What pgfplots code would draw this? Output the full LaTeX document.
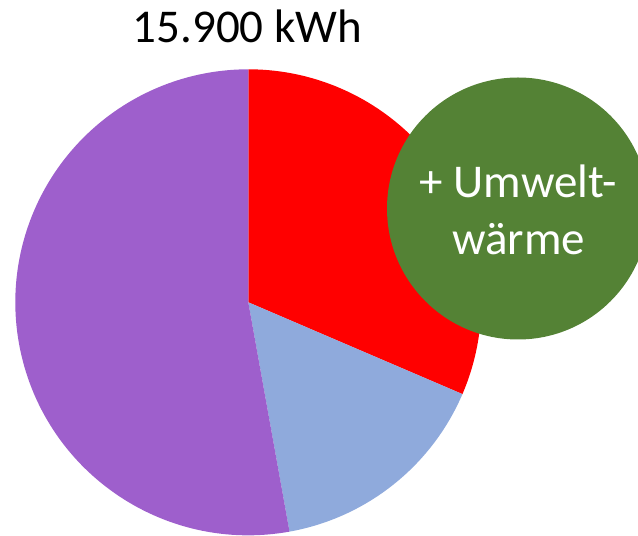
\documentclass[border=0pt]{standalone}
\usepackage{pgfplots}
\usepackage{pgfplotstable}
\pgfplotsset{compat=1.18}
\usepackage{fontspec}
\setmainfont{Carlito}
\definecolor{pRed}{HTML}{FF0000}
\definecolor{pBlue}{HTML}{8FAADC}
\definecolor{pPurple}{HTML}{9E5FCC}
\definecolor{pGreen}{HTML}{548235}
\pgfplotstableread{
part value
A 5000
B 2500
C 8400
}\piedata
\begin{document}
\begin{tikzpicture}
\pgfplotstablegetelem{0}{value}\of\piedata \edef\va{\pgfplotsretval}
\pgfplotstablegetelem{1}{value}\of\piedata \edef\vb{\pgfplotsretval}
\pgfplotstablegetelem{2}{value}\of\piedata \edef\vc{\pgfplotsretval}
\pgfmathsetmacro\tot{(\va+\vb+\vc)/100}
\pgfmathsetmacro\aA{90-3.6*((\va/100)/(\tot/100))}
\pgfmathsetmacro\aB{\aA-3.6*((\vb/100)/(\tot/100))}
\pgfmathsetmacro\aC{\aB-3.6*((\vc/100)/(\tot/100))}
\begin{axis}[
  x=1pt, y=1pt, scale only axis,
  xmin=0, xmax=638, ymin=0, ymax=536,
  hide axis, clip=false,
]
\fill[pRed] (axis cs:248.3,233.7) -- ++(90:233pt) arc[start angle=90, end angle=\aA, radius=233pt] -- cycle;
\fill[pBlue] (axis cs:248.3,233.7) -- ++(\aA:233pt) arc[start angle=\aA, end angle=\aB, radius=233pt] -- cycle;
\fill[pPurple] (axis cs:248.3,233.7) -- ++(\aB:233pt) arc[start angle=\aB, end angle=\aC, radius=233pt] -- cycle;
\fill[pGreen] (axis cs:518,327.5) circle[radius=131pt];
\node[anchor=base, text=white, font=\fontsize{47}{56}\selectfont, inner sep=0pt] at (axis cs:518.5,338) {+ Umwelt-};
\node[anchor=base, text=white, font=\fontsize{47}{56}\selectfont, inner sep=0pt] at (axis cs:518.5,281) {wärme};
\node[anchor=base, text=black, font=\fontsize{47}{56}\selectfont, inner sep=0pt] at (axis cs:247.5,493) {15.900 kWh};
\end{axis}
\pgfresetboundingbox
\path[use as bounding box] (0,0) rectangle (638pt,536pt);
\end{tikzpicture}
\end{document}
